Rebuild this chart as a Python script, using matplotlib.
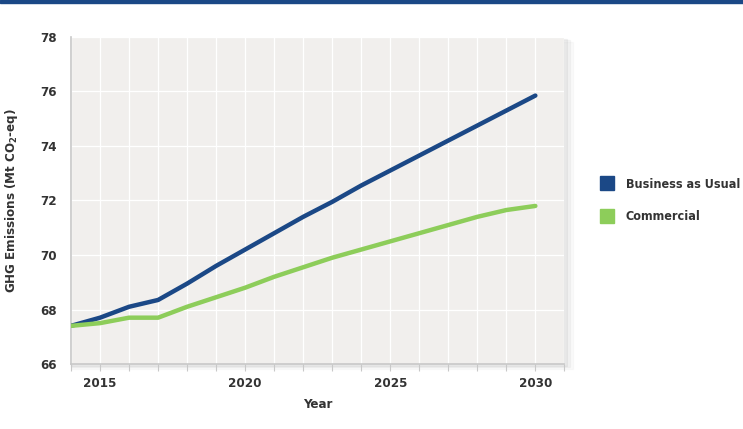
import matplotlib.pyplot as plt
from matplotlib.patches import Rectangle
from matplotlib.lines import Line2D

years = list(range(2014, 2031))
bau = [67.4, 67.7, 68.1, 68.35, 68.95, 69.6, 70.2, 70.8, 71.4, 71.95, 72.55, 73.1, 73.65, 74.2, 74.75, 75.3, 75.85]
commercial = [67.4, 67.5, 67.7, 67.7, 68.1, 68.45, 68.8, 69.2, 69.55, 69.9, 70.2, 70.5, 70.8, 71.1, 71.4, 71.65, 71.8]
series_names = ['Business as Usual', 'Commercial']
colors = ['#1b4886', '#8dcd5a']

plt.rcParams['font.family'] = ['DejaVu Sans']
plt.rcParams['font.stretch'] = 'condensed'
plt.rcParams['font.weight'] = 'bold'
plt.rcParams['axes.labelweight'] = 'bold'

fig = plt.figure(figsize=(7.43, 4.29), dpi=100)
# blue band at top
fig.patches.append(Rectangle((0, 0.992), 1, 0.008, transform=fig.transFigure, color='#1b4886'))

ax = fig.add_axes([0.0956, 0.1515, 0.664, 0.7623])
# soft shadow behind plot area
for i, a in enumerate([0.04, 0.03, 0.02]):
    d = 0.004 * (i + 1)
    fig.patches.append(Rectangle((0.0956, 0.1515 - d), 0.664 + d, 0.7623, transform=fig.transFigure,
                                 color='black', alpha=a, zorder=-1))

ax.set_facecolor('#f1efed')
ax.plot(years, bau, color=colors[0], lw=3.2, solid_capstyle='round', solid_joinstyle='round', zorder=3)
ax.plot(years, commercial, color=colors[1], lw=3.2, solid_capstyle='round', solid_joinstyle='round', zorder=3)

ax.set_xlim(2014, 2031)
ax.set_ylim(66, 78)
ax.set_xticks(range(2014, 2032))
ax.set_xticklabels([str(y) if y % 5 == 0 else '' for y in range(2014, 2032)])
ax.set_yticks(range(66, 79, 2))
ax.grid(True, color='white', lw=0.9)
ax.set_axisbelow(True)

for s in ['top', 'right']:
    ax.spines[s].set_visible(False)
for s in ['left', 'bottom']:
    ax.spines[s].set_color('#c8c8c8')
    ax.spines[s].set_linewidth(1.2)
ax.tick_params(axis='x', length=5, color='#c8c8c8', labelsize=9.5, labelcolor='#333333', pad=4)
ax.tick_params(axis='y', length=0, labelsize=9.5, labelcolor='#333333', pad=10)

ax.set_xlabel('Year', fontsize=9.5, color='#333333', labelpad=6)
ax.set_ylabel('GHG Emissions (Mt CO$_2$-eq)', fontsize=9.5, color='#333333')
ax.yaxis.set_label_coords(-0.103, 0.5)

handles = [Line2D([0], [0], marker='s', ls='', color=c, markersize=9.5) for c in colors]
fig.legend(handles, series_names, loc='upper left', bbox_to_anchor=(0.792, 0.612), frameon=False,
           fontsize=9, labelcolor='#333333', handletextpad=0.9, labelspacing=1.55, handlelength=1.2)

plt.savefig('out.png', dpi=100)
